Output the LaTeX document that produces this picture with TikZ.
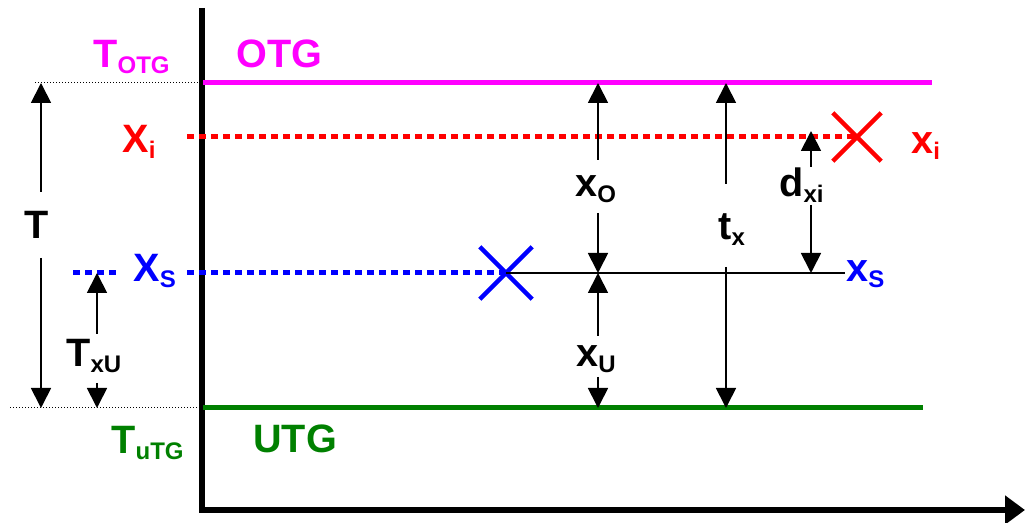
\documentclass[tikz,border=0pt]{standalone}
\usepackage{fontspec}
\setmainfont{Liberation Sans}
\usetikzlibrary{arrows.meta,positioning,shapes.misc}
\definecolor{otgcol}{RGB}{255,0,255}
\definecolor{xicol}{RGB}{255,0,0}
\definecolor{xscol}{RGB}{0,0,255}
\definecolor{utgcol}{RGB}{0,128,0}
\newcommand\lbl[2]{#1\raisebox{-3pt}{\fontsize{12}{14}\selectfont #2}}

\begin{document}
\begin{tikzpicture}[
  x=0.5pt,y=-0.5pt,
  every node/.style={inner sep=0pt,anchor=base west,font=\fontsize{19.8}{23}\selectfont\bfseries},
  >={Triangle[length=10pt,width=10pt]},
  dim/.style={line width=0.9pt},
  level/.style={line width=2.5pt},
  track/.style={line width=2.5pt,dash pattern=on 3.5pt off 2.5pt},
  guide/.style={line width=0.5pt,dash pattern=on 0.5pt off 1pt},
  crossmark/.style={cross out,draw,anchor=center,line width=2.2pt,minimum size=22pt}]
  \useasboundingbox (0,0) rectangle (1025,523);
  % axes
  \coordinate (top) at (202,8);
  \coordinate (O) at (202,510);
  \coordinate (end) at (1025,510);
  \draw[line width=3pt,-{Triangle[length=10pt,width=14pt]}] (top) -- (O) -- (end);
  % OTG / UTG levels
  \coordinate (otgL) at (203,83);
  \coordinate (otgR) at (932,83);
  \coordinate (utgL) at (203,408);
  \coordinate (utgR) at (923,408);
  \coordinate (gO) at (35,83);
  \coordinate (gU) at (10,408);
  \draw[guide] (gO) -- (otgL);
  \draw[guide] (gU) -- (utgL);
  \draw[level,otgcol] (otgL) -- (otgR);
  \draw[level,utgcol] (utgL) -- (utgR);
  % x_i and x_S tracks
  \node[crossmark,xicol] (ci) at (857,137) {};
  \node[crossmark,xscol,minimum size=24pt] (cs) at (506,273) {};
  \coordinate (xiL) at (187,137);
  \coordinate (xsA) at (73,273);
  \coordinate (xsB) at (118,273);
  \coordinate (xsL) at (187,273);
  \coordinate (xsR) at (845,273);
  \draw[track,xicol] (xiL) -- (ci.center);
  \draw[track,xscol] (xsA) -- (xsB);
  \draw[track,xscol] (xsL) -- (cs.center);
  \draw[dim] (cs.center) -- (xsR);
  % dimension arrows
  \coordinate (xO1) at (598,160);
  \coordinate (xO2) at (598,213);
  \coordinate (xU1) at (598,336);
  \coordinate (xU2) at (598,377);
  \coordinate (tx1) at (726,184);
  \coordinate (tx2) at (726,267);
  \coordinate (dx1) at (811,167);
  \coordinate (dx2) at (811,205);
  \coordinate (dtop) at (811,131);
  \coordinate (T1) at (41,192);
  \coordinate (T2) at (41,258);
  \coordinate (Tu1) at (97,334);
  \coordinate (Tu2) at (97,383);
  \draw[->,dim] (xO1) -- (xO1 |- otgL);
  \draw[->,dim] (xO2) -- (xO2 |- xsR);
  \draw[->,dim] (xU1) -- (xU1 |- xsR);
  \draw[->,dim] (xU2) -- (xU2 |- utgL);
  \draw[->,dim] (tx1) -- (tx1 |- otgL);
  \draw[->,dim] (tx2) -- (tx2 |- utgL);
  \draw[->,dim] (dx1) -- (dtop);
  \draw[->,dim] (dx2) -- (dx2 |- xsR);
  \draw[->,dim] (T1) -- (T1 |- otgL);
  \draw[->,dim] (T2) -- (T2 |- utgL);
  \draw[->,dim] (Tu1) -- (Tu1 |- xsR);
  \draw[->,dim] (Tu2) -- (Tu2 |- utgL);
  % labels
  \node[otgcol] (lTotg) at (93,68) {\lbl{T}{OTG}};
  \node[otgcol] (lotg) at (236,68) {OTG};
  \node[xicol] (lXi) at (122,153) {\lbl{X}{i}};
  \node[xscol] (lXs) at (133,282) {\lbl{X}{S}};
  \node (lT) at (24,239) {T};
  \node (lTxU) at (66,367) {\lbl{T}{xU}};
  \node[utgcol] (lTutg) at (111,454) {\lbl{T}{uTG}};
  \node[utgcol] (lutg) at (253,453) {UTG};
  \node (lxO) at (575,197) {\lbl{x}{O}};
  \node (ldxi) at (779,197) {\lbl{d}{xi}};
  \node (ltx) at (718,240) {\lbl{t}{x}};
  \node (lxU) at (576,367) {\lbl{x}{U}};
  \node[xscol] (lxs) at (846,282) {\lbl{x}{S}};
  \node[xicol] (lxi) at (911,154) {\lbl{x}{i}};
\end{tikzpicture}
\end{document}
